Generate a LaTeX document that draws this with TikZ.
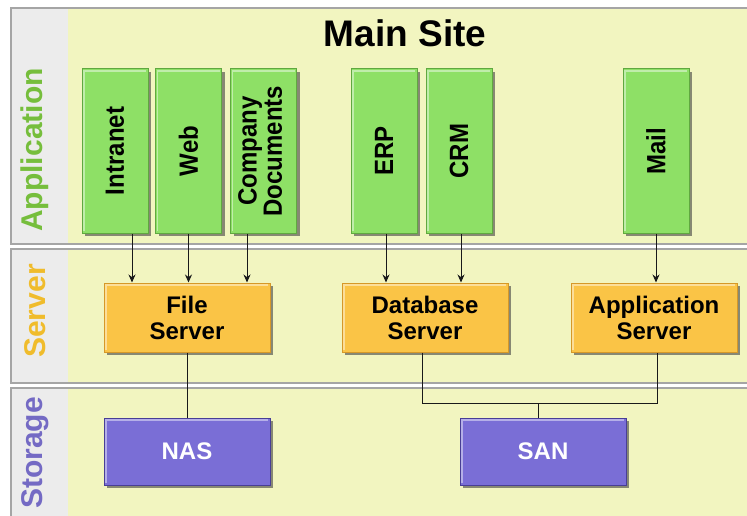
\documentclass[tikz,border=0pt]{standalone}
\usepackage{fontspec}
\setmainfont{Liberation Sans}
\usetikzlibrary{shadows,arrows.meta}
\definecolor{bandbg}{RGB}{242,245,192}
\definecolor{strip}{RGB}{236,236,236}
\definecolor{bandline}{RGB}{165,165,165}
\definecolor{appfill}{RGB}{142,224,102}
\definecolor{appline}{RGB}{96,168,64}
\definecolor{srvfill}{RGB}{250,196,70}
\definecolor{srvline}{RGB}{214,152,40}
\definecolor{stofill}{RGB}{122,110,214}
\definecolor{stoline}{RGB}{72,62,150}
\definecolor{applbl}{RGB}{118,190,60}
\definecolor{srvlbl}{RGB}{240,188,44}
\definecolor{stolbl}{RGB}{116,106,196}
\newcommand{\vtxt}[1]{\rotatebox{90}{\scalebox{1}[1.1]{#1}}}
\begin{document}
\begin{tikzpicture}[x=1pt,y=-1pt,
  box/.style={draw, line width=1pt, inner sep=0pt, align=center,
    font=\bfseries\fontsize{24}{26}\selectfont,
    drop shadow={shadow xshift=3pt, shadow yshift=-3pt, opacity=0.6, fill=black!75},
    path picture={\draw[line width=1.5pt, white, opacity=0.45]
      ([xshift=2pt,yshift=2pt]path picture bounding box.south west) --
      ([xshift=2pt,yshift=-2pt]path picture bounding box.north west) --
      ([xshift=-2pt,yshift=-2pt]path picture bounding box.north east);}},
  appbox/.style={box, fill=appfill, draw=appline, minimum width=66pt, minimum height=164pt},
  srvbox/.style={box, fill=srvfill, draw=srvline, minimum width=166pt, minimum height=69pt},
  stobox/.style={box, fill=stofill, draw=stoline, text=white, minimum width=166pt, minimum height=67pt},
  bandlbl/.style={rotate=90, font=\bfseries\fontsize{30}{31}\selectfont},
  arr/.style={draw=black!90, line width=1pt, -{Stealth[length=8pt,width=7pt]}},
  conn/.style={draw=black!90, line width=1pt},
  band/.style={fill=bandbg, draw=bandline, line width=1.2pt},
  stripst/.style={fill=strip}
]
\useasboundingbox (0,0) rectangle (747,516);
\clip (0,0) rectangle (747,516);
\fill[white] (0,0) rectangle (747,516);

% bands
\draw[band] (11,8) rectangle (770,244);
\fill[stripst] (11.6,8.6) rectangle (68,243.4);
\draw[band] (11,249) rectangle (770,383);
\fill[stripst] (11.6,249.6) rectangle (68,382.4);
\draw[band] (11,388) rectangle (770,540);
\fill[stripst] (11.6,388.6) rectangle (68,539);

% band labels
\node[bandlbl, text=applbl] (lapp) at (35,150) {Application};
\node[bandlbl, text=srvlbl] (lsrv) at (35,311) {Server};
\node[bandlbl, text=stolbl] (lsto) at (35,453) {Storage};

% title
\node[font=\bfseries\fontsize{37}{40}\selectfont, anchor=base] (title) at (405,47) {Main Site};

% application boxes
\node[appbox] (intranet) at (115,151) {\vtxt{Intranet}};
\node[appbox] (web) at (188.5,151) {\vtxt{Web}};
\node[appbox] (docs) at (263.5,151) {\vtxt{\begin{tabular}{@{}c@{}}Company\\[-3pt]Documents\end{tabular}}};
\node[appbox] (erp) at (384,151) {\vtxt{ERP}};
\node[appbox] (crm) at (459,151) {\vtxt{CRM}};
\node[appbox] (mail) at (656,151) {\vtxt{Mail}};

% server boxes
\node[srvbox] (fs) at (187,317.5) {File\\Server};
\node[srvbox] (db) at (425,317.5) {Database\\Server};
\node[srvbox] (app) at (654,317.5) {Application\\Server};

% storage boxes
\node[stobox] (nas) at (187,451.5) {NAS};
\node[stobox] (san) at (543,451.5) {SAN};

% arrows
\draw[arr] ([xshift=17pt]intranet.south) -- ([xshift=17pt]intranet.south |- fs.north);
\draw[arr] (web.south) -- (web.south |- fs.north);
\draw[arr] ([xshift=-16.5pt]docs.south) -- ([xshift=-16.5pt]docs.south |- fs.north);
\draw[arr] ([xshift=2pt]erp.south) -- ([xshift=2pt]erp.south |- db.north);
\draw[arr] ([xshift=2pt]crm.south) -- ([xshift=2pt]crm.south |- db.north);
\draw[arr] (mail.south) -- (mail.south |- app.north);

% connectors
\draw[conn] (fs.south) -- (nas.north);
\coordinate (bus) at ([xshift=-5pt,yshift=14pt]san.north);
\draw[conn] ([xshift=-3pt]db.south) |- (bus) -| ([xshift=3pt]app.south);
\draw[conn] (bus) -- (bus |- san.north);
\end{tikzpicture}
\end{document}
